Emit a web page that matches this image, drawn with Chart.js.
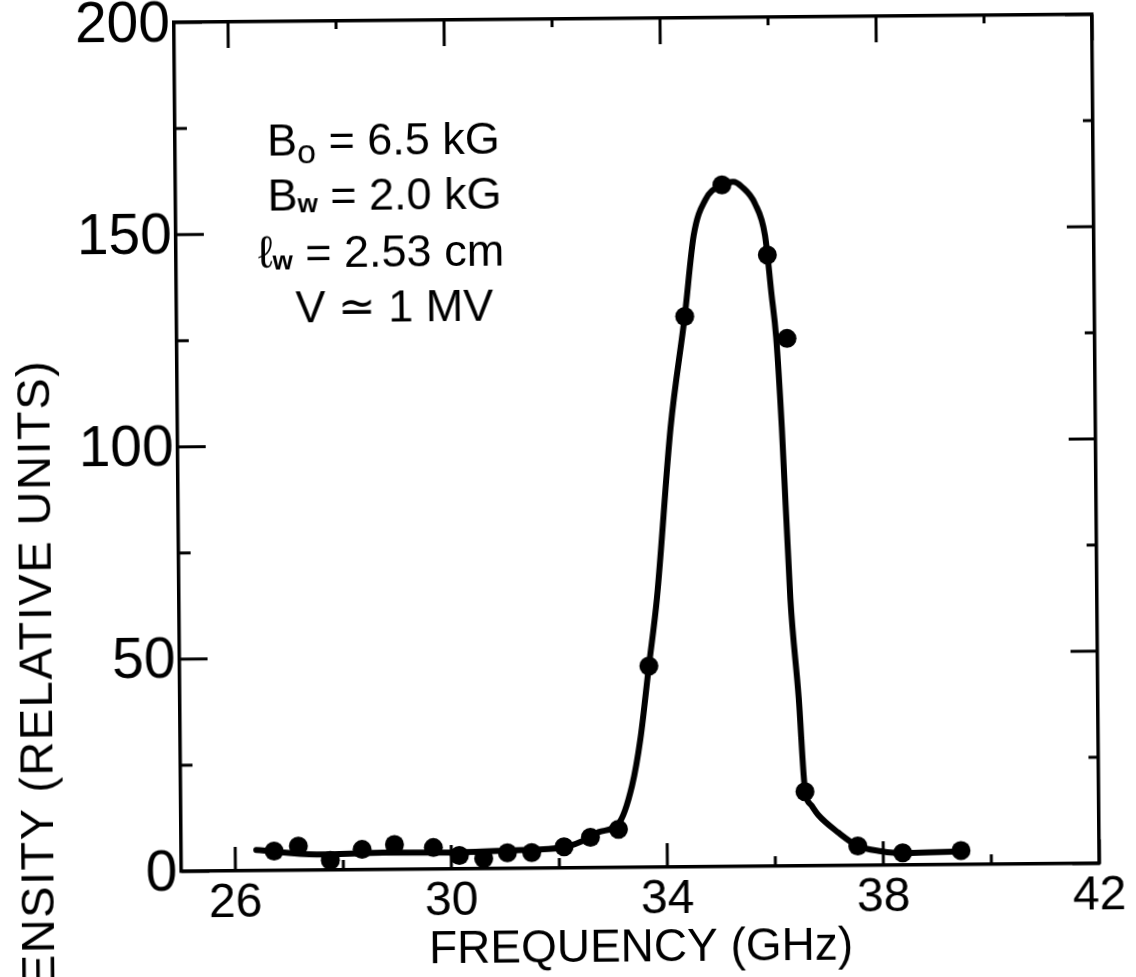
<!DOCTYPE html>
<html>
<head>
<meta charset="utf-8">
<script src="https://cdn.jsdelivr.net/npm/chart.js@4.4.1/dist/chart.umd.min.js"></script>
<style>
    html, body { margin: 0; padding: 0; background: #fff; overflow: hidden; }
    /* canvas um pouco mais alto para o "200" não ser cortado em cima */
    #grafico { display: block; margin-top: -20px; transform: rotate(-0.5deg); }
</style>
</head>
<body>
<canvas id="grafico" width="1136" height="997"></canvas>
<script>
// Pontos medidos (frequência em GHz, intensidade em unidades relativas)
const freqPontos = [26.72, 27.17, 27.76, 28.35, 28.95, 29.67, 30.15, 30.60, 31.04, 31.49, 32.09,
    32.58, 33.10, 33.69, 34.41, 35.12, 35.95, 36.30, 36.56, 37.53, 38.36, 39.44];
const intensPontos = [4.6, 5.7, 2.3, 4.8, 5.9, 5.1, 3.2, 2.4, 3.7, 3.7, 5.0,
    7.2, 9.0, 47.4, 129.7, 160.6, 144.0, 124.3, 17.5, 4.6, 2.9, 3.3];

// Curva traçada à mão sobre os pontos
const freqCurva = [26.39, 27.51, 28.74, 29.97, 31.20, 32.09, 32.58, 32.73, 33.10, 33.36, 33.52,
    33.69, 33.85, 34.13, 34.41, 34.59, 34.81, 35.12, 35.33, 35.49, 35.73, 35.91, 36.02, 36.10,
    36.19, 36.32, 36.46, 36.56, 36.68, 36.80, 37.17, 37.53, 37.96, 38.36, 39.44];
const intensCurva = [4.9, 3.7, 4.0, 3.9, 4.3, 4.9, 7.2, 8.4, 10.3, 19.3, 30.2,
    47.4, 63.4, 103.5, 129.7, 148.8, 157.1, 160.6, 161.3, 160.1, 156.1, 148.6, 134.8, 124.6,
    103.4, 63.1, 39.5, 18.1, 14.2, 12.0, 7.8, 4.6, 3.3, 2.8, 3.1];

// Marcas dos eixos
const ticksX = [26, 30, 34, 38, 42];
const ticksXMenores = [28, 32, 36, 40];
const ticksY = [0, 50, 100, 150, 200];
const ticksYMenores = [25, 75, 125, 175];

const tituloX = 'FREQUENCY (GHz)';
const tituloY = 'INTENSITY (RELATIVE UNITS)';

// Parâmetros do experimento: [símbolo, índice, resto]
const parametros = [
    ['B', 'o', ' = 6.5 kG'],
    ['B', 'w', ' = 2.0 kG'],
    ['\u2113', 'w', ' = 2.53 cm'],
    ['V \u2243 1 MV', '', '']
];

const fonte = "'Liberation Sans', Arial, 'DejaVu Sans', sans-serif";

// Desenha as marquinhas para dentro nos quatro lados
const marcasInternas = {
    id: 'marcasInternas',
    afterDraw(chart) {
        const { ctx, chartArea: a, scales: { x, y } } = chart;
        ctx.save();
        ctx.strokeStyle = '#000';
        ctx.lineWidth = 3;
        const traco = (x1, y1, x2, y2) => {
            ctx.beginPath();
            ctx.moveTo(x1, y1);
            ctx.lineTo(x2, y2);
            ctx.stroke();
        };
        ticksX.forEach(v => {
            const px = x.getPixelForValue(v);
            traco(px, a.bottom, px, a.bottom - 24);
            traco(px, a.top, px, a.top + 26);
        });
        ticksXMenores.forEach(v => {
            const px = x.getPixelForValue(v);
            traco(px, a.bottom, px, a.bottom - 10);
            traco(px, a.top, px, a.top + 8);
        });
        ticksY.forEach(v => {
            const py = y.getPixelForValue(v);
            traco(a.left, py, a.left + 28, py);
            traco(a.right, py, a.right - 27, py);
        });
        ticksYMenores.forEach(v => {
            const py = y.getPixelForValue(v);
            traco(a.left, py, a.left + 12, py);
            traco(a.right, py, a.right - 10, py);
        });
        ctx.restore();
    }
};

// Textos: bloco de parâmetros e título do eixo vertical
const textos = {
    id: 'textos',
    afterDraw(chart) {
        const ctx = chart.ctx;
        const topo = chart.chartArea.top;
        ctx.save();
        ctx.fillStyle = '#000';
        ctx.textBaseline = 'alphabetic';
        ctx.textAlign = 'left';

        const inicioX = [270, 270, 260, 297];
        const linhaY = [134, 189, 246, 301];
        parametros.forEach((p, i) => {
            let px = inicioX[i];
            const py = topo + linhaY[i];
            ctx.font = '45px ' + fonte;
            ctx.fillText(p[0], px, py);
            px += ctx.measureText(p[0]).width;
            if (p[1]) {
                let desce = 2;
                if (p[1] === 'o') {
                    ctx.font = '34px ' + fonte;
                    desce = 8;
                } else {
                    ctx.font = 'bold 26px ' + fonte;
                }
                ctx.fillText(p[1], px, py + desce);
                px += ctx.measureText(p[1]).width;
            }
            if (p[2]) {
                ctx.font = '45px ' + fonte;
                ctx.fillText(p[2], px, py);
            }
        });

        // título vertical, cortado na borda de baixo
        ctx.font = '47px ' + fonte;
        ctx.letterSpacing = '1.5px';
        ctx.translate(37, topo + 336);
        ctx.rotate(-Math.PI / 2);
        ctx.textAlign = 'right';
        ctx.textBaseline = 'middle';
        ctx.fillText(tituloY, 0, 0);
        ctx.restore();
    }
};

const ctx = document.getElementById('grafico').getContext('2d');
new Chart(ctx, {
    type: 'scatter',
    data: {
        datasets: [
            {
                label: 'pontos',
                data: freqPontos.map((f, i) => ({ x: f, y: intensPontos[i] })),
                pointRadius: 9.5,
                pointBackgroundColor: '#000',
                pointBorderWidth: 0,
                showLine: false,
                order: 1
            },
            {
                label: 'curva',
                data: freqCurva.map((f, i) => ({ x: f, y: intensCurva[i] })),
                showLine: true,
                pointRadius: 0,
                borderColor: '#000',
                borderWidth: 6,
                borderCapStyle: 'round',
                borderJoinStyle: 'round',
                cubicInterpolationMode: 'monotone',
                fill: false,
                order: 2
            }
        ]
    },
    options: {
        responsive: false,
        animation: false,
        events: [],
        layout: { padding: { left: 0, top: 39, right: 40, bottom: 0 } },
        plugins: { legend: { display: false }, tooltip: { enabled: false } },
        scales: {
            x: {
                type: 'linear',
                position: 'bottom',
                min: 25,
                max: 42,
                afterBuildTicks: s => { s.ticks = ticksX.map(v => ({ value: v })); },
                afterFit: s => {
                    s.height = 109;
                    s.paddingLeft = 0;
                    s.paddingRight = 0;
                },
                grid: { display: false, drawTicks: false },
                border: { display: true, color: '#000', width: 3.5 },
                ticks: {
                    color: '#000',
                    font: { family: fonte, size: 48 },
                    padding: 4,
                    maxRotation: 0,
                    autoSkip: false
                },
                title: {
                    display: true,
                    text: tituloX,
                    color: '#000',
                    font: { family: fonte, size: 46 },
                    padding: { top: 0, bottom: 0 }
                }
            },
            y: {
                type: 'linear',
                position: 'left',
                min: 0,
                max: 200,
                afterBuildTicks: s => { s.ticks = ticksY.map(v => ({ value: v })); },
                afterFit: s => {
                    s.width = 178;
                    s.paddingTop = 0;
                    s.paddingBottom = 0;
                },
                grid: { display: false, drawTicks: false },
                border: { display: true, color: '#000', width: 3.5 },
                ticks: {
                    color: '#000',
                    font: { family: fonte, size: 57 },
                    padding: 4,
                    labelOffset: 3
                }
            },
            x2: {
                type: 'linear',
                position: 'top',
                min: 25,
                max: 42,
                afterFit: s => {
                    s.height = 0;
                    s.paddingLeft = 0;
                    s.paddingRight = 0;
                },
                grid: { display: false, drawTicks: false },
                border: { display: true, color: '#000', width: 3.5 },
                ticks: { display: false }
            },
            y2: {
                type: 'linear',
                position: 'right',
                min: 0,
                max: 200,
                afterFit: s => {
                    s.width = 0;
                    s.paddingTop = 0;
                    s.paddingBottom = 0;
                },
                grid: { display: false, drawTicks: false },
                border: { display: true, color: '#000', width: 3.5 },
                ticks: { display: false }
            }
        }
    },
    plugins: [marcasInternas, textos]
});
</script>
</body>
</html>
